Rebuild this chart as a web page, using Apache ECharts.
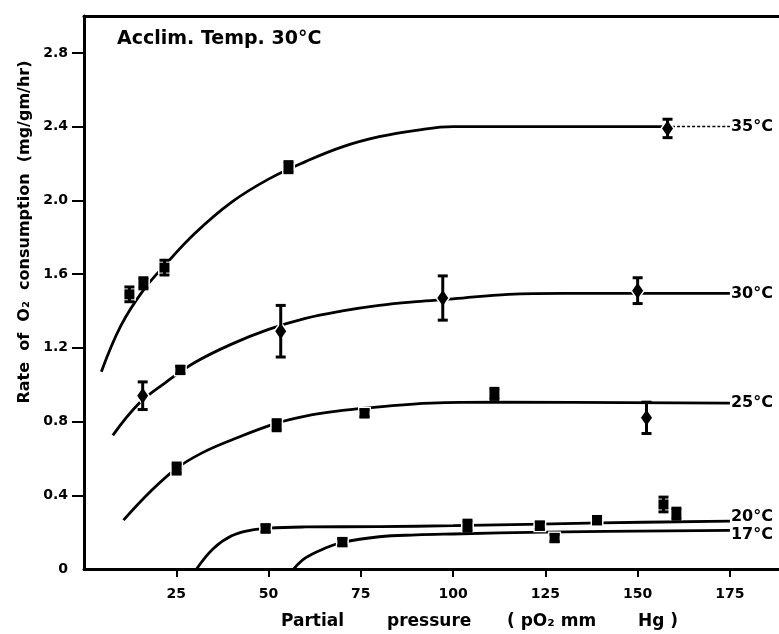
<!DOCTYPE html>
<html>
<head>
<meta charset="utf-8">
<script src="https://cdn.jsdelivr.net/npm/echarts@6/dist/echarts.min.js"></script>
<style>
html,body{margin:0;padding:0;background:#fff;}
#chart{width:779px;height:634px;}
</style>
</head>
<body>
<div id="chart"></div>
<script>
// ---- axis ticks ----
const xTicks = [25, 50, 75, 100, 125, 150, 175];
const yTicks = [0, 0.4, 0.8, 1.2, 1.6, 2.0, 2.4, 2.8];

// ---- fitted curves ----
const curve35X = [4.7, 10, 16, 22, 30, 40, 50, 60, 70, 80, 90, 100, 120, 158];
const curve35Y = [1.07, 1.32, 1.51, 1.65, 1.82, 1.99, 2.115, 2.21, 2.29, 2.345, 2.38, 2.40, 2.40, 2.40];
const curve35ExtX = [158, 175];
const curve35ExtY = [2.40, 2.40];
const curve30X = [7.8, 15, 22, 30, 40, 50, 60, 70, 80, 90, 100, 115, 130, 175];
const curve30Y = [0.725, 0.90, 1.01, 1.12, 1.22, 1.30, 1.36, 1.40, 1.43, 1.45, 1.465, 1.49, 1.495, 1.495];
const curve25X = [10.7, 18, 25, 32, 40, 52, 60, 70, 80, 94, 112, 175];
const curve25Y = [0.265, 0.42, 0.545, 0.63, 0.70, 0.79, 0.83, 0.86, 0.88, 0.90, 0.905, 0.90];
const curve20X = [30.5, 35, 40, 45, 50, 60, 80, 100, 140, 175];
const curve20Y = [0.0, 0.11, 0.18, 0.21, 0.222, 0.228, 0.23, 0.235, 0.25, 0.26];
const curve17X = [56.8, 60, 65, 70, 80, 90, 100, 125, 175];
const curve17Y = [0.0, 0.06, 0.11, 0.145, 0.175, 0.185, 0.19, 0.20, 0.21];

// ---- measured points: x, mean, +/- error ----
const pts35X = [12.3, 16.1, 21.8, 55.4, 158.1];
const pts35Y = [1.49, 1.55, 1.635, 2.18, 2.39];
const pts35E = [0.04, 0.03, 0.04, 0.03, 0.05];
const pts30X = [15.9, 26.1, 53.3, 97.2, 150];
const pts30Y = [0.94, 1.08, 1.29, 1.47, 1.51];
const pts30E = [0.075, 0.02, 0.14, 0.12, 0.07];
const pts25X = [25.1, 52.2, 76, 111.2, 152.4];
const pts25Y = [0.545, 0.78, 0.845, 0.95, 0.82];
const pts25E = [0.03, 0.03, 0.02, 0.03, 0.085];
const pts20X = [49.2, 103.9, 123.5, 139, 160.5];
const pts20Y = [0.22, 0.235, 0.235, 0.265, 0.30];
const pts20E = [0.02, 0.03, 0.02, 0.02, 0.03];
const pts17X = [70, 127.5, 157];
const pts17Y = [0.146, 0.168, 0.35];
const pts17E = [0.02, 0.02, 0.04];

const curveLabels = ['35°C', '30°C', '25°C', '20°C', '17°C'];
const titleText = 'Acclim. Temp. 30°C';
const xNameParts = ['Partial', 'pressure', '( pO₂ mm', 'Hg )'];
const yName = 'Rate  of  O₂  consumption  (mg/gm/hr)';

// ---- build ----
const zip2 = (a, b) => a.map((v, i) => [v, b[i]]);
const zip3 = (a, b, c) => a.map((v, i) => [v, b[i], c[i]]);
const FONT = 'DejaVu Sans';

function lineSeries(xs, ys, label, offset, dashed) {
  return {
    type: 'line', data: zip2(xs, ys), smooth: 0.4,
    showSymbol: false, symbol: 'none', silent: true, z: 2,
    lineStyle: { color: '#000', width: dashed ? 1.5 : 2.8, type: dashed ? [3, 2] : 'solid' },
    endLabel: label ? {
      show: true, formatter: label, color: '#000', fontFamily: FONT, fontWeight: 'bold',
      fontSize: 16, distance: 1, offset: offset || [0, 0]
    } : { show: false }
  };
}

function diamond(c) {
  return [[c[0], c[1] - 8], [c[0] + 5.5, c[1]], [c[0], c[1] + 8], [c[0] - 5.5, c[1]]];
}

function renderPoint(params, api) {
  const x = api.value(0), y = api.value(1), e = api.value(2);
  const c = api.coord([x, y]);
  const t = api.coord([x, y + e]);
  const b = api.coord([x, y - e]);
  const big = e >= 0.05;
  const children = [];
  if (big) {
    children.push({ type: 'polygon', shape: { points: diamond(c) }, style: { fill: '#000', stroke: '#fff', lineWidth: 3 } });
  } else {
    children.push({ type: 'rect', shape: { x: c[0] - 5, y: c[1] - 5, width: 10, height: 10 }, style: { fill: '#000', stroke: '#fff', lineWidth: 3 } });
  }
  children.push({ type: 'line', shape: { x1: c[0], y1: t[1], x2: c[0], y2: b[1] }, style: { stroke: '#000', lineWidth: 3 } });
  children.push({ type: 'line', shape: { x1: c[0] - 5, y1: t[1], x2: c[0] + 5, y2: t[1] }, style: { stroke: '#000', lineWidth: 3 } });
  children.push({ type: 'line', shape: { x1: c[0] - 5, y1: b[1], x2: c[0] + 5, y2: b[1] }, style: { stroke: '#000', lineWidth: 3 } });
  if (big) {
    children.push({ type: 'polygon', shape: { points: diamond(c) }, style: { fill: '#000' } });
  } else {
    children.push({ type: 'rect', shape: { x: c[0] - 5, y: c[1] - 5, width: 10, height: 10 }, style: { fill: '#000' } });
  }
  return { type: 'group', children };
}

function pointSeries(xs, ys, es) {
  return { type: 'custom', data: zip3(xs, ys, es), renderItem: renderPoint, z: 5, silent: true, clip: false };
}

const xNameX = [281, 387, 507, 638];
const labelFont = 'bold 17px "DejaVu Sans"';

const chart = echarts.init(document.getElementById('chart'), null, { renderer: 'canvas' });
chart.setOption({
  backgroundColor: '#fff',
  animation: false,
  grid: { left: 84, top: 16, right: 0, bottom: 65 },
  xAxis: [{
    type: 'value', min: 0, max: 188.3, interval: 25,
    axisLine: { show: true, lineStyle: { color: '#000', width: 3 } },
    axisTick: { show: true, length: 8, lineStyle: { color: '#000', width: 2 }, customValues: xTicks },
    axisLabel: { color: '#000', fontFamily: FONT, fontWeight: 'bold', fontSize: 14, margin: 18, customValues: xTicks },
    splitLine: { show: false }
  }, {
    type: 'value', position: 'top', min: 0, max: 188.3,
    axisLine: { show: true, lineStyle: { color: '#000', width: 3 } },
    axisTick: { show: false }, axisLabel: { show: false }, splitLine: { show: false }
  }],
  yAxis: {
    type: 'value', min: 0, max: 3.0, interval: 0.4,
    axisLine: { show: true, lineStyle: { color: '#000', width: 3 } },
    axisTick: { show: true, length: 12, lineStyle: { color: '#000', width: 2 }, customValues: yTicks.slice(1) },
    axisLabel: { color: '#000', fontFamily: FONT, fontWeight: 'bold', fontSize: 14, margin: 16, customValues: yTicks,
      formatter: v => (v === 0 ? '0' : v.toFixed(1)) },
    splitLine: { show: false }
  },
  graphic: [
    { type: 'text', left: 117, top: 30, style: { text: titleText, fill: '#000', font: 'bold 19px "DejaVu Sans"' } },
    { type: 'text', x: 25, y: 232, rotation: Math.PI / 2,
      style: { text: yName, fill: '#000', font: 'bold 16px "DejaVu Sans"', textAlign: 'center', textVerticalAlign: 'middle' } }
  ].concat(xNameParts.map((t, i) => ({
    type: 'text', x: xNameX[i], y: 622,
    style: { text: t, fill: '#000', font: labelFont, textAlign: 'left', textVerticalAlign: 'middle' }
  }))),
  series: [
    lineSeries(curve35X, curve35Y, null),
    lineSeries(curve35ExtX, curve35ExtY, curveLabels[0], [0, 0], true),
    lineSeries(curve30X, curve30Y, curveLabels[1]),
    lineSeries(curve25X, curve25Y, curveLabels[2]),
    lineSeries(curve20X, curve20Y, curveLabels[3], [0, -4]),
    lineSeries(curve17X, curve17Y, curveLabels[4], [0, 5]),
    pointSeries(pts35X, pts35Y, pts35E),
    pointSeries(pts30X, pts30Y, pts30E),
    pointSeries(pts25X, pts25Y, pts25E),
    pointSeries(pts20X, pts20Y, pts20E),
    pointSeries(pts17X, pts17Y, pts17E)
  ]
});
</script>
</body>
</html>
